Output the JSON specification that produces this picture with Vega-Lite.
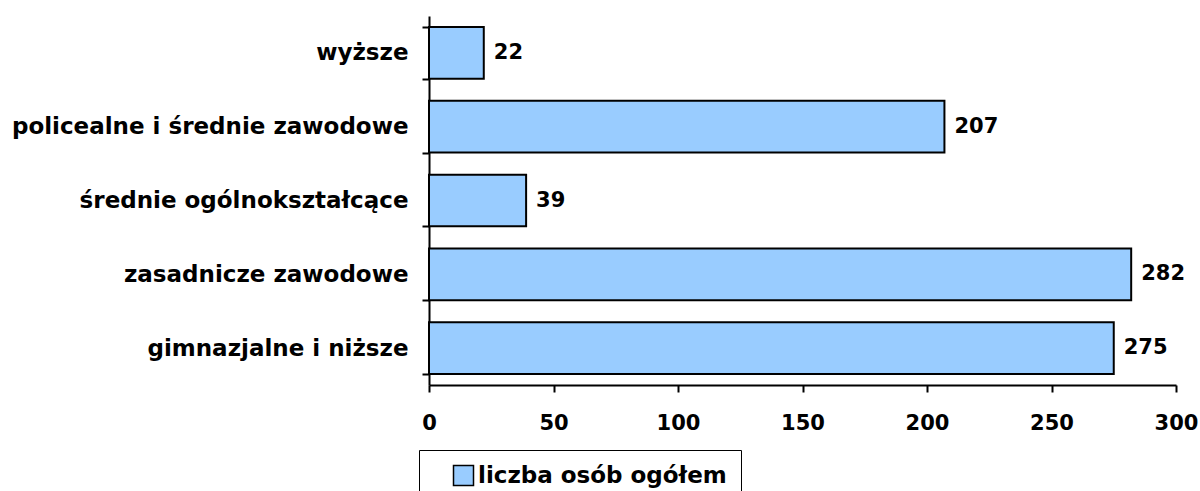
{
  "$schema": "https://vega.github.io/schema/vega-lite/v6.json",
  "autosize": {"type": "none"},
  "padding": {"left": 429, "top": 16, "right": 24, "bottom": 106},
  "width": 747,
  "height": 369,
  "background": "white",
  "config": {
    "view": {"stroke": null},
    "font": "DejaVu Sans",
    "axis": {"grid": false, "domainColor": "black", "tickColor": "black", "domainWidth": 2, "tickWidth": 2, "labelColor": "black", "labelFont": "DejaVu Sans", "labelFontWeight": "bold", "labelFontSize": 21}
  },
  "data": {
    "values": [
      {"kat": "wyższe", "n": 22, "s": "liczba osób ogółem"},
      {"kat": "policealne i średnie zawodowe", "n": 207, "s": "liczba osób ogółem"},
      {"kat": "średnie ogólnokształcące", "n": 39, "s": "liczba osób ogółem"},
      {"kat": "zasadnicze zawodowe", "n": 282, "s": "liczba osób ogółem"},
      {"kat": "gimnazjalne i niższe", "n": 275, "s": "liczba osób ogółem"}
    ]
  },
  "encoding": {
    "y": {
      "field": "kat", "type": "nominal", "sort": null,
      "scale": {"paddingInner": 0.3, "paddingOuter": 0.15},
      "axis": {"title": null, "tickBand": "extent", "tickSize": 7, "labelPadding": 14, "labelFontSize": 23, "labelLimit": 0}
    },
    "x": {
      "field": "n", "type": "quantitative",
      "scale": {"domain": [0, 300], "nice": false},
      "axis": {"title": null, "values": [0, 50, 100, 150, 200, 250, 300], "tickSize": 7, "labelPadding": 20, "labelFlush": false, "labelOverlap": false}
    }
  },
  "layer": [
    {
      "mark": {"type": "bar", "stroke": "black", "strokeWidth": 2},
      "encoding": {
        "color": {
          "field": "s", "type": "nominal",
          "scale": {"range": ["#99CCFF"]},
          "legend": {
            "title": null, "orient": "none", "legendX": -10, "legendY": 434,
            "strokeColor": "black", "padding": 14, "symbolOffset": 19, "symbolType": "square", "symbolSize": 400,
            "symbolStrokeColor": "black", "symbolStrokeWidth": 1.5, "symbolOpacity": 1,
            "labelFontSize": 23, "labelFontWeight": "bold", "labelColor": "black", "labelFont": "DejaVu Sans",
            "labelLimit": 0, "labelOffset": 3
          }
        }
      }
    },
    {
      "mark": {"type": "text", "align": "left", "baseline": "middle", "dx": 10, "fontSize": 21, "fontWeight": "bold", "color": "black"},
      "encoding": {"text": {"field": "n", "type": "quantitative"}}
    }
  ]
}
